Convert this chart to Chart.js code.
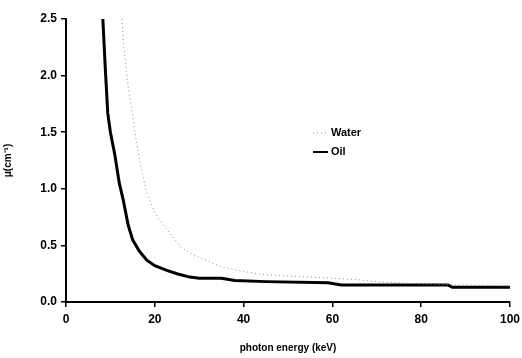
<!DOCTYPE html>
<html>
<head>
<meta charset="utf-8">
<script src="https://cdn.jsdelivr.net/npm/chart.js@4"></script>
<style>
  html, body { margin: 0; padding: 0; background: #fff; }
  #wrap { width: 522px; height: 358px; }
</style>
</head>
<body>
<div id="wrap"><canvas id="grafico" width="522" height="358"></canvas></div>
<script>
// Datos
const energiaAceite = [8.3, 8.8, 9.4, 10, 11, 12, 12.9, 14, 15, 16.5, 18.2, 20, 22.7, 25, 27.9, 30, 35, 38, 45, 59, 62, 86, 87, 100];
const muAceite = [2.5, 2.1, 1.67, 1.5, 1.3, 1.05, 0.9, 0.68, 0.55, 0.45, 0.37, 0.32, 0.28, 0.25, 0.22, 0.21, 0.21, 0.19, 0.18, 0.17, 0.15, 0.15, 0.13, 0.13];

const energiaAgua = [12.6, 13, 14, 15, 15.5, 16.7, 18.2, 20, 21.5, 23.4, 25.7, 28, 30.9, 35, 40, 45, 50, 60, 65, 70, 80, 90, 100];
const muAgua = [2.5, 2.25, 1.9, 1.65, 1.5, 1.23, 0.96, 0.79, 0.7, 0.61, 0.49, 0.43, 0.38, 0.31, 0.27, 0.24, 0.23, 0.21, 0.2, 0.18, 0.16, 0.15, 0.14];

const ticksX = [0, 20, 40, 60, 80, 100];
const ticksY = [0, 0.5, 1.0, 1.5, 2.0, 2.5];

const aPuntos = (xs, ys) => xs.map((x, i) => ({ x: x, y: ys[i] }));

// Leyenda dibujada dentro del área del gráfico
const leyendaPlugin = {
    id: 'leyenda',
    afterDraw(chart) {
        const ctx = chart.ctx;
        ctx.save();
        ctx.font = 'bold 11px "Liberation Sans", Arial, sans-serif';
        ctx.fillStyle = '#000';
        ctx.textBaseline = 'middle';
        // Water
        ctx.strokeStyle = '#999';
        ctx.lineWidth = 1;
        ctx.setLineDash([1, 3]);
        ctx.beginPath();
        ctx.moveTo(313, 133);
        ctx.lineTo(328, 133);
        ctx.stroke();
        ctx.setLineDash([]);
        ctx.fillText('Water', 331, 133);
        // Oil
        ctx.strokeStyle = '#000';
        ctx.lineWidth = 2;
        ctx.beginPath();
        ctx.moveTo(313, 152);
        ctx.lineTo(328, 152);
        ctx.stroke();
        ctx.fillText('Oil', 331, 152);
        ctx.restore();
    }
};

const fuente = { family: '"Liberation Sans", Arial, sans-serif', size: 12, weight: 'bold' };

new Chart(document.getElementById('grafico').getContext('2d'), {
    type: 'scatter',
    data: {
        datasets: [
            {
                label: 'Water',
                data: aPuntos(energiaAgua, muAgua),
                showLine: true,
                borderColor: '#8a8a8a',
                borderWidth: 1,
                borderDash: [1, 3],
                pointRadius: 0,
                tension: 0
            },
            {
                label: 'Oil',
                data: aPuntos(energiaAceite, muAceite),
                showLine: true,
                borderColor: '#000',
                borderWidth: 3,
                pointRadius: 0,
                tension: 0
            }
        ]
    },
    options: {
        responsive: false,
        animation: false,
        layout: { padding: { top: 19, right: 12, left: 0, bottom: 0 } },
        plugins: {
            legend: { display: false },
            tooltip: { enabled: false }
        },
        scales: {
            x: {
                type: 'linear',
                min: 0,
                max: 100,
                afterBuildTicks: (scale) => { scale.ticks = ticksX.map(v => ({ value: v })); },
                afterFit: (scale) => {
                    scale.height = 56;
                    scale.paddingLeft = 0;
                    scale.paddingRight = 0;
                },
                border: { color: '#000', width: 2 },
                grid: { drawOnChartArea: false, drawTicks: true, tickLength: 5, color: '#000', lineWidth: 1.5 },
                ticks: { color: '#000', font: fuente, padding: 5 },
                title: {
                    display: true,
                    text: 'photon energy (keV)',
                    color: '#000',
                    font: { family: '"Liberation Sans", Arial, sans-serif', size: 10, weight: 'bold' },
                    padding: { top: 0 }
                }
            },
            y: {
                type: 'linear',
                min: 0,
                max: 2.5,
                afterBuildTicks: (scale) => { scale.ticks = ticksY.map(v => ({ value: v })); },
                afterFit: (scale) => {
                    scale.width = 66;
                    scale.paddingTop = 0;
                    scale.paddingBottom = 0;
                },
                border: { color: '#000', width: 2 },
                grid: { drawOnChartArea: false, drawTicks: true, tickLength: 5, color: '#000', lineWidth: 1.5 },
                ticks: {
                    color: '#000',
                    font: fuente,
                    padding: 4,
                    callback: function (value) {
                        return Number(value).toFixed(1);
                    }
                },
                title: {
                    display: true,
                    text: 'μ(cm⁻¹)',
                    color: '#000',
                    font: { family: '"Liberation Sans", Arial, sans-serif', size: 10, weight: 'bold' },
                    padding: { top: 2, bottom: 0 }
                }
            }
        }
    },
    plugins: [leyendaPlugin]
});
</script>
</body>
</html>
